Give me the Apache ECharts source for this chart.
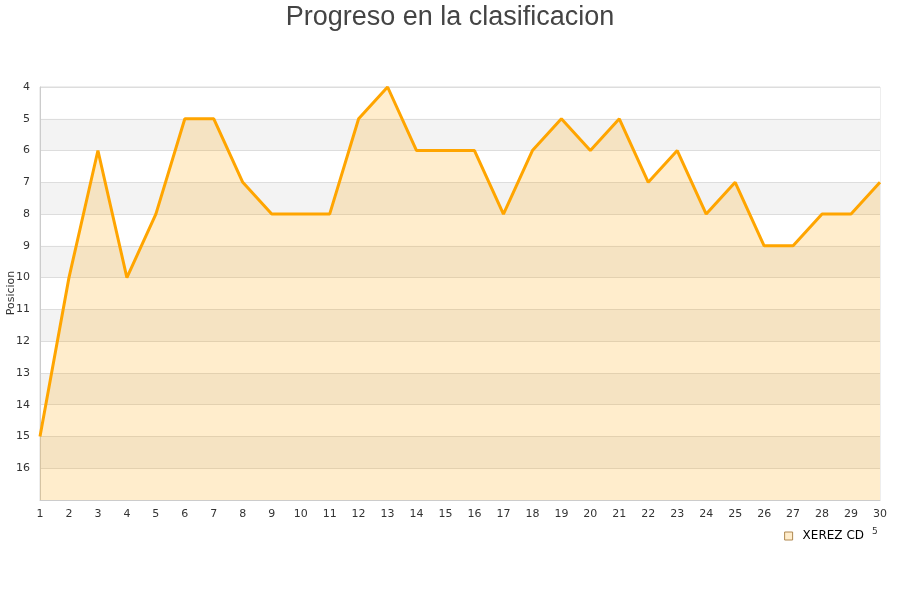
<!DOCTYPE html>
<html><head><meta charset="utf-8">
<script src="https://cdn.jsdelivr.net/npm/echarts@6/dist/echarts.min.js"></script>
<style>html,body{margin:0;padding:0;background:#fff}#c{width:900px;height:600px}</style>
</head><body><div id="c"></div>
<script>
const jornadas = [1,2,3,4,5,6,7,8,9,10,11,12,13,14,15,16,17,18,19,20,21,22,23,24,25,26,27,28,29,30];
const posiciones = [15,10,6,10,8,5,5,7,8,8,8,5,4,6,6,6,8,6,5,6,5,7,6,8,7,9,9,8,8,7];
const serieNombre = 'XEREZ CD';
const ejeY = 'Posicion';
const chart = echarts.init(document.getElementById('c'));
chart.setOption({
  animation: false,
  title: {text: 'Progreso en la clasificacion', left: 'center', top: -1,
    textStyle: {fontSize: 27, fontWeight: 'normal', color: '#444', fontFamily: 'Liberation Sans'}},
  grid: {left: 40, right: 20, top: 87, bottom: 100, containLabel: false, outerBoundsMode: 'none',
    show: true, borderColor: '#dddddd', borderWidth: 1, backgroundColor: 'transparent'},
  legend: {right: 31, bottom: 53, itemWidth: 8, itemHeight: 8, icon: 'rect', itemGap: 10,
    textStyle: {fontSize: 12, color: '#000', fontFamily: 'DejaVu Sans', padding: [0, 0, 0, 5]},
    data: [{name: serieNombre, itemStyle: {color: '#ffedcc', borderColor: '#b08850', borderWidth: 1}}]},
  xAxis: {type: 'category', data: jornadas, boundaryGap: false,
    axisLine: {lineStyle: {color: '#cccccc'}}, axisTick: {show: false},
    axisLabel: {interval: 0, fontSize: 11, color: '#333', margin: 9, fontFamily: 'DejaVu Sans'}},
  yAxis: {type: 'value', inverse: true, min: 4, max: 17, interval: 1,
    axisLine: {show: true, lineStyle: {color: '#cccccc'}}, axisTick: {show: false},
    axisLabel: {fontSize: 11, color: '#333', margin: 10, fontFamily: 'DejaVu Sans',
      formatter: v => v === 17 ? '' : String(v)},
    splitLine: {show: true, lineStyle: {color: '#dddddd'}},
    splitArea: {show: true, areaStyle: {color: ['#ffffff', '#f3f3f3']}}},
  series: [{name: serieNombre, type: 'line', data: posiciones, showSymbol: false, symbol: 'none',
    lineStyle: {color: '#ffa500', width: 3},
    itemStyle: {color: '#ffa500'},
    areaStyle: {color: '#ffa500', opacity: 0.2, origin: 'end'}}],
  graphic: [
    {type: 'text', x: 11, y: 293, rotation: Math.PI / 2,
      style: {text: ejeY, fontSize: 11, fill: '#333', fontFamily: 'DejaVu Sans', align: 'center', verticalAlign: 'middle'}},
    {type: 'text', left: 872, top: 527, style: {text: '5', fontSize: 9, fill: '#333', fontFamily: 'DejaVu Sans'}}]
});
</script></body></html>
